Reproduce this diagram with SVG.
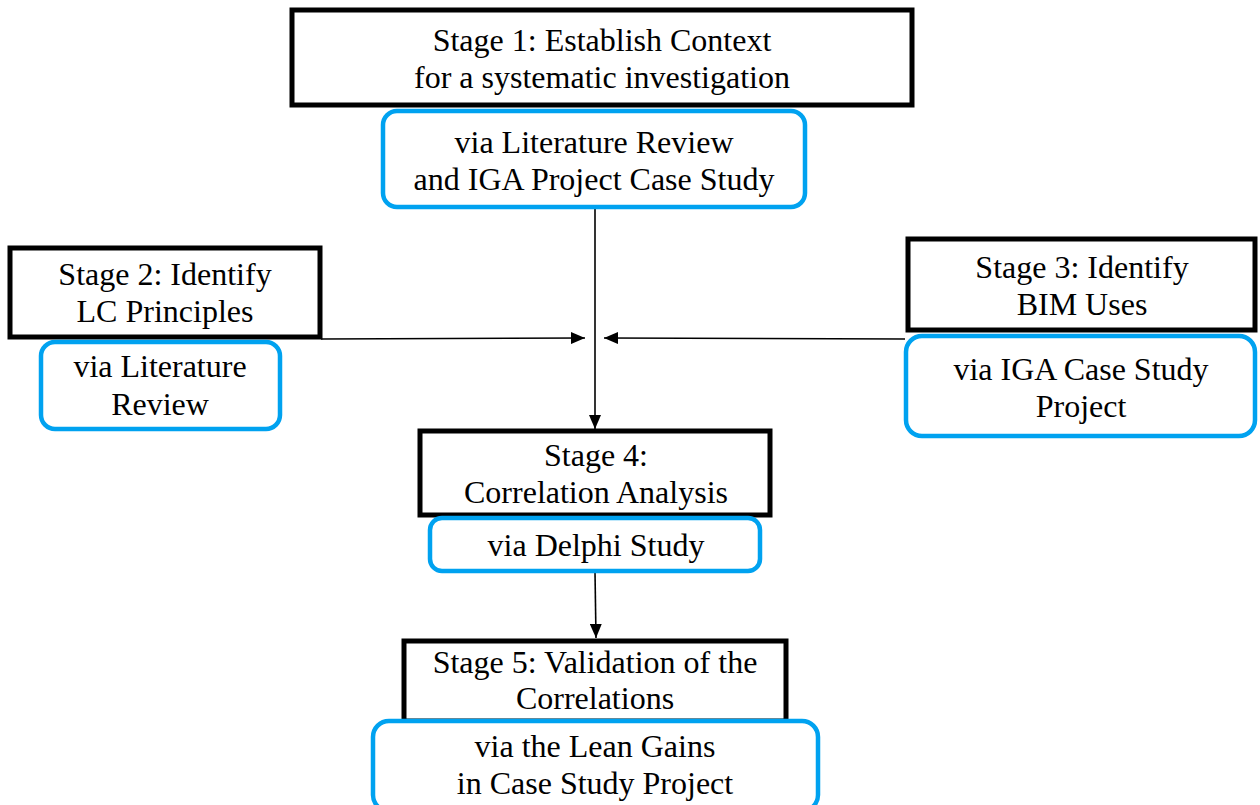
<svg xmlns="http://www.w3.org/2000/svg" width="1260" height="805" viewBox="0 0 1260 805">
<defs>
<style>
.stage{fill:#fff;stroke:#000;stroke-width:5}
.via{fill:#fff;stroke:#00A2F0;stroke-width:4.5}
text{font-family:"Liberation Serif","Times New Roman",serif;font-size:32px;fill:#000;text-anchor:middle}
.conn{stroke:#000;stroke-width:1.6;fill:none}
</style>
<marker id="ah" markerWidth="14" markerHeight="12" refX="14" refY="6" orient="auto" markerUnits="userSpaceOnUse">
<path d="M0,0 L14,6 L0,12 Z" fill="#000"/>
</marker>
</defs>
<rect width="1260" height="805" fill="#fff"/>
<g id="connectors">
<line class="conn" x1="595" y1="208" x2="595" y2="429" marker-end="url(#ah)"/>
<line class="conn" x1="321" y1="339" x2="585" y2="338" marker-end="url(#ah)"/>
<line class="conn" x1="905" y1="339" x2="604" y2="338" marker-end="url(#ah)"/>
<line class="conn" x1="595" y1="572" x2="596" y2="638" marker-end="url(#ah)"/>
</g>
<g id="stage1">
<rect class="stage" x="292" y="10" width="620" height="95"/>
<text x="602" y="51">Stage 1: Establish Context</text>
<text x="602" y="88">for a systematic investigation</text>
</g>
<g id="via1">
<rect class="via" x="383" y="111" width="422" height="96" rx="14"/>
<text x="594" y="153">via Literature Review</text>
<text x="594" y="190">and IGA Project Case Study</text>
</g>
<g id="stage2">
<rect class="stage" x="10" y="248" width="310" height="89"/>
<text x="165" y="285">Stage 2: Identify</text>
<text x="165" y="322">LC Principles</text>
</g>
<g id="via2">
<rect class="via" x="41" y="342" width="239" height="87" rx="14"/>
<text x="160" y="377">via Literature</text>
<text x="160" y="415">Review</text>
</g>
<g id="stage3">
<rect class="stage" x="908" y="239" width="347" height="91"/>
<text x="1082" y="278">Stage 3: Identify</text>
<text x="1082" y="315">BIM Uses</text>
</g>
<g id="via3">
<rect class="via" x="906" y="336" width="349" height="100" rx="16"/>
<text x="1081" y="380">via IGA Case Study</text>
<text x="1081" y="417">Project</text>
</g>
<g id="stage4">
<rect class="stage" x="420" y="431" width="350" height="84"/>
<text x="596" y="466">Stage 4:</text>
<text x="596" y="503">Correlation Analysis</text>
</g>
<g id="via4">
<rect class="via" x="430" y="518" width="330" height="53" rx="12"/>
<text x="596" y="556">via Delphi Study</text>
</g>
<g id="stage5">
<rect class="stage" x="404" y="641" width="382" height="80"/>
<text x="595" y="673">Stage 5: Validation of the</text>
<text x="595" y="709">Correlations</text>
</g>
<g id="via5">
<rect class="via" x="373" y="721" width="445" height="90" rx="16"/>
<text x="595" y="757">via the Lean Gains</text>
<text x="595" y="794">in Case Study Project</text>
</g>
</svg>
